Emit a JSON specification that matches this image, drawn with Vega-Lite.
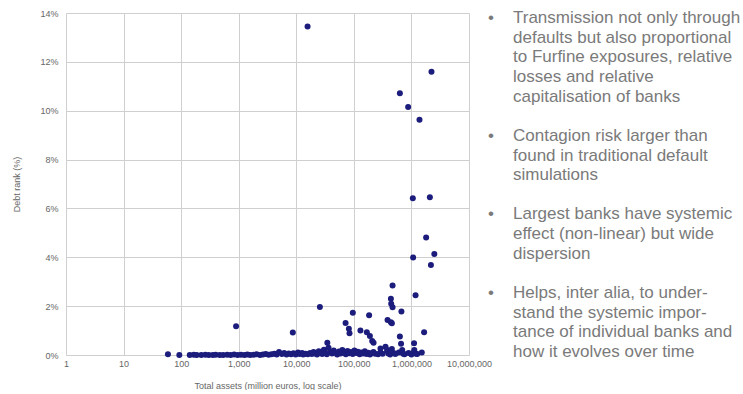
{
  "$schema": "https://vega.github.io/schema/vega-lite/v6.json",
  "background": "white",
  "padding": {"left": 12, "top": 8, "right": 0, "bottom": 0},
  "bounds": "flush",
  "spacing": 19,
  "config": {"view": {"stroke": null}, "font": "Liberation Sans"},
  "hconcat": [
    {
      "width": 403,
      "height": 342,
      "data": {"values": [
        {"assets": 15700, "rank": 13.45},
        {"assets": 2230000, "rank": 11.6},
        {"assets": 630000, "rank": 10.72},
        {"assets": 877000, "rank": 10.15},
        {"assets": 1380000, "rank": 9.63},
        {"assets": 1057000, "rank": 6.42},
        {"assets": 2090000, "rank": 6.46},
        {"assets": 1800000, "rank": 4.81},
        {"assets": 1070000, "rank": 3.99},
        {"assets": 2500000, "rank": 4.13},
        {"assets": 2180000, "rank": 3.68},
        {"assets": 470000, "rank": 2.84},
        {"assets": 1180000, "rank": 2.45},
        {"assets": 440000, "rank": 2.3},
        {"assets": 445000, "rank": 2.1},
        {"assets": 470000, "rank": 1.95},
        {"assets": 670000, "rank": 1.78},
        {"assets": 25700, "rank": 1.96},
        {"assets": 96000, "rank": 1.73},
        {"assets": 184000, "rank": 1.63},
        {"assets": 385000, "rank": 1.43},
        {"assets": 440000, "rank": 1.34},
        {"assets": 457000, "rank": 1.3},
        {"assets": 71800, "rank": 1.31},
        {"assets": 81900, "rank": 1.07},
        {"assets": 84000, "rank": 0.89},
        {"assets": 130000, "rank": 1.0},
        {"assets": 168000, "rank": 0.93},
        {"assets": 190000, "rank": 0.78},
        {"assets": 208000, "rank": 0.57},
        {"assets": 220000, "rank": 0.5},
        {"assets": 1660000, "rank": 0.93},
        {"assets": 630000, "rank": 0.76},
        {"assets": 660000, "rank": 0.46},
        {"assets": 1110000, "rank": 0.48},
        {"assets": 8700, "rank": 0.92},
        {"assets": 900, "rank": 1.18},
        {"assets": 34600, "rank": 0.5},
        {"assets": 290000, "rank": 0.27},
        {"assets": 380000, "rank": 0.2},
        {"assets": 1110000, "rank": 0.13},
        {"assets": 720000, "rank": 0.05},
        {"assets": 1200000, "rank": 0.05},
        {"assets": 59, "rank": 0.03},
        {"assets": 93, "rank": 0.0},
        {"assets": 141, "rank": 0.0},
        {"assets": 166, "rank": 0.01},
        {"assets": 186, "rank": 0.0},
        {"assets": 224, "rank": 0.0},
        {"assets": 263, "rank": 0.01},
        {"assets": 302, "rank": 0.0},
        {"assets": 355, "rank": 0.0},
        {"assets": 398, "rank": 0.01},
        {"assets": 468, "rank": 0.0},
        {"assets": 537, "rank": 0.0},
        {"assets": 631, "rank": 0.01},
        {"assets": 724, "rank": 0.0},
        {"assets": 832, "rank": 0.02},
        {"assets": 955, "rank": 0.0},
        {"assets": 1096, "rank": 0.01},
        {"assets": 1259, "rank": 0.0},
        {"assets": 1413, "rank": 0.02},
        {"assets": 1585, "rank": 0.0},
        {"assets": 1820, "rank": 0.01},
        {"assets": 2042, "rank": 0.03},
        {"assets": 2344, "rank": 0.0},
        {"assets": 2630, "rank": 0.02},
        {"assets": 2951, "rank": 0.04},
        {"assets": 3311, "rank": 0.01},
        {"assets": 3715, "rank": 0.03},
        {"assets": 4169, "rank": 0.05},
        {"assets": 4571, "rank": 0.02},
        {"assets": 5012, "rank": 0.12},
        {"assets": 5623, "rank": 0.04},
        {"assets": 6166, "rank": 0.08},
        {"assets": 6761, "rank": 0.02},
        {"assets": 7413, "rank": 0.06},
        {"assets": 8128, "rank": 0.03},
        {"assets": 8913, "rank": 0.07},
        {"assets": 9772, "rank": 0.02},
        {"assets": 10715, "rank": 0.1},
        {"assets": 11482, "rank": 0.04},
        {"assets": 12589, "rank": 0.08},
        {"assets": 13183, "rank": 0.02},
        {"assets": 14454, "rank": 0.05},
        {"assets": 15849, "rank": 0.03},
        {"assets": 17378, "rank": 0.08},
        {"assets": 18621, "rank": 0.04},
        {"assets": 19953, "rank": 0.12},
        {"assets": 21380, "rank": 0.06},
        {"assets": 22909, "rank": 0.02},
        {"assets": 24547, "rank": 0.15},
        {"assets": 26303, "rank": 0.08},
        {"assets": 28184, "rank": 0.04},
        {"assets": 30200, "rank": 0.22},
        {"assets": 31623, "rank": 0.1},
        {"assets": 33884, "rank": 0.03},
        {"assets": 36308, "rank": 0.3},
        {"assets": 38905, "rank": 0.12},
        {"assets": 41687, "rank": 0.06},
        {"assets": 44668, "rank": 0.18},
        {"assets": 47863, "rank": 0.09},
        {"assets": 51286, "rank": 0.02},
        {"assets": 54954, "rank": 0.14},
        {"assets": 58884, "rank": 0.06},
        {"assets": 63096, "rank": 0.2},
        {"assets": 67608, "rank": 0.1},
        {"assets": 72444, "rank": 0.03},
        {"assets": 77625, "rank": 0.16},
        {"assets": 83176, "rank": 0.07},
        {"assets": 89125, "rank": 0.12},
        {"assets": 95499, "rank": 0.04},
        {"assets": 102329, "rank": 0.18},
        {"assets": 109648, "rank": 0.08},
        {"assets": 117490, "rank": 0.13},
        {"assets": 125893, "rank": 0.03},
        {"assets": 134896, "rank": 0.1},
        {"assets": 144544, "rank": 0.06},
        {"assets": 154882, "rank": 0.15},
        {"assets": 165959, "rank": 0.04},
        {"assets": 177828, "rank": 0.09},
        {"assets": 190546, "rank": 0.02},
        {"assets": 204174, "rank": 0.07},
        {"assets": 218776, "rank": 0.12},
        {"assets": 234423, "rank": 0.05},
        {"assets": 263027, "rank": 0.03},
        {"assets": 288403, "rank": 0.1},
        {"assets": 316228, "rank": 0.05},
        {"assets": 354813, "rank": 0.34},
        {"assets": 380189, "rank": 0.16},
        {"assets": 398107, "rank": 0.06},
        {"assets": 426580, "rank": 0.02},
        {"assets": 457088, "rank": 0.25},
        {"assets": 489779, "rank": 0.08},
        {"assets": 524807, "rank": 0.04},
        {"assets": 602560, "rank": 0.1},
        {"assets": 691831, "rank": 0.2},
        {"assets": 758578, "rank": 0.03},
        {"assets": 891251, "rank": 0.08},
        {"assets": 1000000, "rank": 0.02},
        {"assets": 1122018, "rank": 0.2},
        {"assets": 1258925, "rank": 0.04},
        {"assets": 1513561, "rank": 0.1}
      ]},
      "mark": {"type": "circle", "size": 36, "opacity": 1, "color": "#1c1c7c"},
      "encoding": {
        "x": {
          "field": "assets", "type": "quantitative",
          "scale": {"type": "log", "domain": [1, 10000000], "nice": false},
          "axis": {
            "title": "Total assets (million euros, log scale)",
            "values": [1, 10, 100, 1000, 10000, 100000, 1000000, 10000000],
            "format": ",",
            "labelFlush": false, "labelOverlap": false, "labelBound": false,
            "grid": true, "gridColor": "#cfcfcf", "gridWidth": 1,
            "domain": false, "ticks": false,
            "labelFontSize": 9, "labelColor": "#666666", "labelPadding": 4,
            "titleFontSize": 9, "titleColor": "#666666", "titleFontWeight": "normal", "titlePadding": 13
          }
        },
        "y": {
          "field": "rank", "type": "quantitative",
          "scale": {"domain": [0, 14], "nice": false},
          "axis": {
            "title": "Debt rank (%)",
            "values": [0, 2, 4, 6, 8, 10, 12, 14],
            "labelExpr": "datum.value + '%'",
            "labelFlush": false, "labelOverlap": false,
            "grid": true, "gridColor": "#cfcfcf", "gridWidth": 1,
            "domain": false, "ticks": false,
            "labelFontSize": 9, "labelColor": "#666666", "labelPadding": 8,
            "titleFontSize": 9, "titleColor": "#666666", "titleFontWeight": "normal", "titlePadding": 18
          }
        }
      }
    },
    {
      "width": 250,
      "height": 342,
      "data": {"values": [
        {"row": 0, "bullet": "•", "text": "Transmission not only through"},
        {"row": 1, "bullet": "", "text": "defaults but also proportional"},
        {"row": 2, "bullet": "", "text": "to Furfine exposures, relative"},
        {"row": 3, "bullet": "", "text": "losses and relative"},
        {"row": 4, "bullet": "", "text": "capitalisation of banks"},
        {"row": 6, "bullet": "•", "text": "Contagion risk larger than"},
        {"row": 7, "bullet": "", "text": "found in traditional default"},
        {"row": 8, "bullet": "", "text": "simulations"},
        {"row": 10, "bullet": "•", "text": "Largest banks have systemic"},
        {"row": 11, "bullet": "", "text": "effect (non-linear) but wide"},
        {"row": 12, "bullet": "", "text": "dispersion"},
        {"row": 14, "bullet": "•", "text": "Helps, inter alia, to under-"},
        {"row": 15, "bullet": "", "text": "stand the systemic impor-"},
        {"row": 16, "bullet": "", "text": "tance of individual banks and"},
        {"row": 17, "bullet": "", "text": "how it evolves over time"}
      ]},
      "encoding": {
        "y": {"field": "row", "type": "quantitative", "scale": {"domain": [-0.25, 17.15], "reverse": true, "nice": false, "zero": false}, "axis": null}
      },
      "layer": [
        {
          "mark": {"type": "text", "align": "left", "baseline": "middle", "fontSize": 17, "color": "#7a7a7a"},
          "encoding": {"x": {"value": 0}, "text": {"field": "bullet"}}
        },
        {
          "mark": {"type": "text", "align": "left", "baseline": "middle", "fontSize": 17, "color": "#7a7a7a"},
          "encoding": {"x": {"value": 25}, "text": {"field": "text"}}
        }
      ]
    }
  ]
}
